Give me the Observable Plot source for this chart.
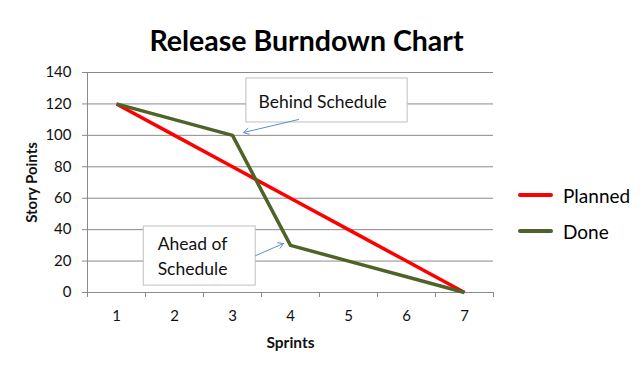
<!DOCTYPE html>
<html><head><meta charset="utf-8">
<script src="https://cdn.jsdelivr.net/npm/d3@7"></script>
<script src="https://cdn.jsdelivr.net/npm/@observablehq/plot@0.6"></script>
<style>
body{margin:0;background:#fff;}
#wrap{position:relative;width:642px;height:369px;font-family:Lato, "Open Sans", sans-serif;}
.leg{position:absolute;left:518px;display:flex;align-items:center;font-size:19px;color:#000;height:22px;}
.sw{width:35px;height:4px;margin-right:10px;border-radius:2px}
</style></head><body><div id="wrap"></div>
<script>
const sprints = [1, 2, 3, 4, 5, 6, 7];
const planned = [120, 100, 80, 60, 40, 20, 0];
const done = [120, 110, 100, 30, 20, 10, 0];
const yTicks = [0, 20, 40, 60, 80, 100, 120, 140];
const seriesNames = ["Planned", "Done"];
const seriesColors = ["#ff0000", "#4f6228"];
const title = "Release Burndown Chart";
const xLabel = "Sprints";
const yLabel = "Story Points";

const rows = [
  ...sprints.map((s, i) => ({sprint: s, value: planned[i], series: "Planned"})),
  ...sprints.map((s, i) => ({sprint: s, value: done[i], series: "Done"}))
];

// annotation layout (in data units)
const notes = [
  {text: "Behind Schedule", box: [3.24, 6.02, 108.2, 136.2], tx: 3.45, ty: 122.5, from: [4.14, 110.1], to: [3.19, 101.8]},
  {text: "Ahead of\nSchedule", box: [1.47, 3.40, 4.4, 42.0], tx: 1.71, ty: 24.2, from: [3.40, 23.5], to: [3.88, 31.2]}
];
const bounds = d3.range(0.5, 8, 1);
const ink = "#111";

const chart = Plot.plot({
  width: 642, height: 369,
  marginLeft: 87, marginRight: 149, marginTop: 72, marginBottom: 77,
  style: {fontFamily: "Lato, 'Open Sans', sans-serif", background: "#fff", color: ink},
  x: {type: "linear", domain: [0.5, 7.5], axis: null},
  y: {domain: [0, 140], axis: null},
  color: {domain: seriesNames, range: seriesColors},
  marks: [
    Plot.gridY(yTicks, {stroke: "#8a8a8a", strokeOpacity: 1}),
    Plot.ruleX([0.5], {stroke: "#8a8a8a"}),
    Plot.ruleY([0], {stroke: "#8a8a8a"}),
    Plot.axisY(yTicks, {tickSize: 5, tickPadding: 11, fontSize: 15, stroke: "#8a8a8a", fill: ink, label: null}),
    Plot.axisX(bounds, {tickSize: 5, stroke: "#8a8a8a", tickFormat: () => "", label: null}),
    Plot.axisX(sprints, {tickSize: 0, tickPadding: 18, fontSize: 15, fill: ink, label: null}),
    Plot.text([yLabel], {frameAnchor: "left", textAnchor: "middle", dx: -55, rotate: -90, fontWeight: "bold", fontSize: 15, fill: ink}),
    Plot.text([xLabel], {frameAnchor: "bottom", dy: 55, fontWeight: "bold", fontSize: 15.5, fill: ink}),
    Plot.text([title], {frameAnchor: "top", dx: 16, dy: -42, fontWeight: "bold", fontSize: 28.5, fill: "#000"}),
    Plot.line(rows, {x: "sprint", y: "value", z: "series", stroke: "series", strokeWidth: 3.5, strokeLinejoin: "round", strokeLinecap: "butt"}),
    Plot.rect(notes, {x1: d => d.box[0], x2: d => d.box[1], y1: d => d.box[2], y2: d => d.box[3], fill: "#fff", stroke: "#bfbfbf", strokeWidth: 1}),
    Plot.text(notes, {x: "tx", y: "ty", text: "text", textAnchor: "start", fontSize: 17.5, lineHeight: 1.45, fill: ink}),
    Plot.arrow(notes, {x1: d => d.from[0], y1: d => d.from[1], x2: d => d.to[0], y2: d => d.to[1], stroke: "#5b8fd0", strokeWidth: 1, headLength: 9, bend: 0})
  ]
});
const wrap = document.getElementById("wrap");
wrap.appendChild(chart);
const legTops = [184, 220];
seriesNames.forEach((n, i) => {
  const d = document.createElement("div");
  d.className = "leg";
  d.style.top = legTops[i] + "px";
  d.innerHTML = `<span class="sw" style="background:${seriesColors[i]}"></span><span>${n}</span>`;
  wrap.appendChild(d);
});
</script></body></html>
